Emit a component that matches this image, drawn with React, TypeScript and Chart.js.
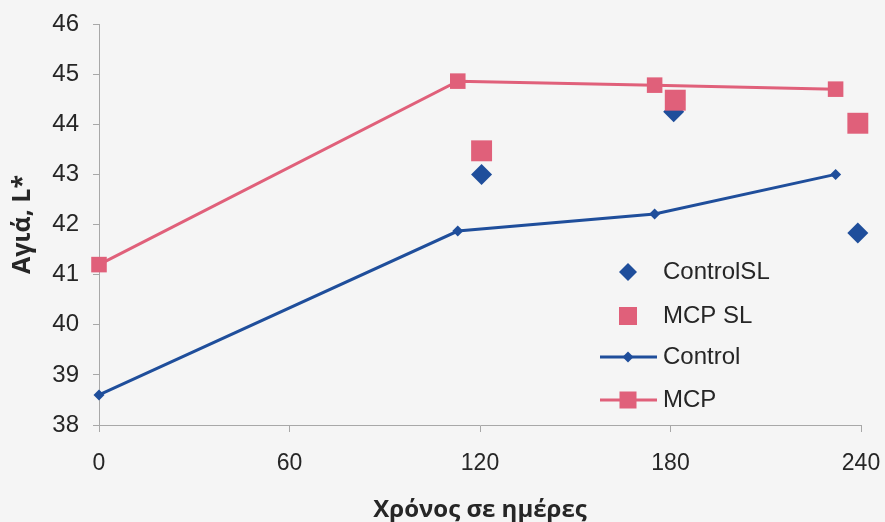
import { useEffect, useRef } from "react";
import { Chart, registerables } from "chart.js";

Chart.register(...registerables);

// Lightness L* over storage time (days)
const controlDays = [0, 113, 175, 232];
const controlL = [38.6, 41.87, 42.21, 43.0];
const mcpDays = [0, 113, 175, 232];
const mcpL = [41.2, 44.86, 44.78, 44.7];
const controlSLDays = [120.5, 181, 239];
const controlSLL = [43.0, 44.25, 41.83];
const mcpSLDays = [120.5, 181.5, 239];
const mcpSLL = [43.47, 44.48, 44.02];

const xTicks = [0, 60, 120, 180, 240];
const yTicks = [38, 39, 40, 41, 42, 43, 44, 45, 46];

const seriesNames = ["ControlSL", "MCP SL", "Control", "MCP"];
const xTitle = "Χρόνος σε ημέρες";
const yTitle = "Αγιά, L*";

const BLUE = "#1f4e9b";
const PINK = "#e0607a";
const BG = "#f5f5f5";
const AXIS = "#a8a8a8";
const TEXT = "#262626";

const pts = (xs: number[], ys: number[]) => xs.map((x, i) => ({ x, y: ys[i] }));

const backgroundPlugin = {
  id: "pageBackground",
  beforeDraw(chart: any) {
    const { ctx, width, height } = chart;
    ctx.save();
    ctx.fillStyle = BG;
    ctx.fillRect(0, 0, width, height);
    ctx.restore();
  },
};

// Legend drawn inside the plot, to the right of centre
const sideLegendPlugin = {
  id: "sideLegend",
  afterDraw(chart: any) {
    const ctx: CanvasRenderingContext2D = chart.ctx;
    const symX = 628;
    const textX = 663;
    const rows = [272, 316, 357, 400];
    ctx.save();
    ctx.font = "24px 'Liberation Sans', Arial, sans-serif";
    ctx.textBaseline = "middle";
    ctx.textAlign = "left";
    rows.forEach((y, i) => {
      const kind = i;
      if (kind === 2 || kind === 3) {
        ctx.strokeStyle = kind === 2 ? BLUE : PINK;
        ctx.lineWidth = 3;
        ctx.beginPath();
        ctx.moveTo(600, y);
        ctx.lineTo(657, y);
        ctx.stroke();
      }
      if (kind === 0 || kind === 2) {
        const r = kind === 0 ? 9 : 5.5;
        ctx.fillStyle = BLUE;
        ctx.beginPath();
        ctx.moveTo(symX, y - r);
        ctx.lineTo(symX + r, y);
        ctx.lineTo(symX, y + r);
        ctx.lineTo(symX - r, y);
        ctx.closePath();
        ctx.fill();
      } else {
        const s = kind === 1 ? 18 : 17;
        ctx.fillStyle = PINK;
        ctx.fillRect(symX - s / 2, y - s / 2, s, s);
      }
      ctx.fillStyle = TEXT;
      ctx.fillText(seriesNames[i], textX, y);
    });
    ctx.restore();
  },
};

export default function App() {
  const canvasRef = useRef<HTMLCanvasElement | null>(null);

  useEffect(() => {
    document.body.style.margin = "0";
    const canvas = canvasRef.current;
    if (!canvas) return;

    const chart = new Chart(canvas, {
      type: "line",
      data: {
        datasets: [
          {
            label: seriesNames[0],
            data: pts(controlSLDays, controlSLL),
            showLine: false,
            pointStyle: "rectRot",
            pointRadius: 10.5,
            pointBorderWidth: 0,
            backgroundColor: BLUE,
            borderColor: BLUE,
            clip: false,
            order: 1,
          },
          {
            label: seriesNames[1],
            data: pts(mcpSLDays, mcpSLL),
            showLine: false,
            pointStyle: "rect",
            pointRadius: 14.8,
            pointBorderWidth: 0,
            backgroundColor: PINK,
            borderColor: PINK,
            clip: false,
            order: 0,
          },
          {
            label: seriesNames[2],
            data: pts(controlDays, controlL),
            borderColor: BLUE,
            backgroundColor: BLUE,
            borderWidth: 3,
            pointStyle: "rectRot",
            pointRadius: 5.5,
            pointBorderWidth: 0,
            tension: 0,
            clip: false,
            order: 2,
          },
          {
            label: seriesNames[3],
            data: pts(mcpDays, mcpL),
            borderColor: PINK,
            backgroundColor: PINK,
            borderWidth: 3,
            pointStyle: "rect",
            pointRadius: 11,
            pointBorderWidth: 0,
            tension: 0,
            clip: false,
            order: 3,
          },
        ],
      },
      options: {
        responsive: false,
        animation: false,
        layout: { autoPadding: false, padding: { top: 24, right: 24, left: 0, bottom: 0 } },
        plugins: {
          legend: { display: false },
          tooltip: { enabled: false },
        },
        scales: {
          x: {
            type: "linear",
            min: 0,
            max: 240,
            afterBuildTicks: (s: any) => {
              s.ticks = xTicks.map((v) => ({ value: v }));
            },
            afterFit: (s: any) => {
              s.height = 97;
              s.paddingLeft = 0;
              s.paddingRight = 0;
            },
            grid: { drawOnChartArea: false, drawTicks: true, tickLength: 7, color: AXIS },
            border: { display: true, color: AXIS, width: 1 },
            ticks: {
              padding: 18,
              color: TEXT,
              font: { family: "'Liberation Sans', Arial, sans-serif", size: 23 },
              maxRotation: 0,
            },
            title: {
              display: true,
              text: xTitle,
              color: TEXT,
              font: { family: "'Open Sans', sans-serif", size: 24, weight: "bold", lineHeight: 1 },
              padding: { top: 0, bottom: 0 },
            },
          },
          y: {
            type: "linear",
            min: 38,
            max: 46,
            afterBuildTicks: (s: any) => {
              s.ticks = yTicks.map((v) => ({ value: v }));
            },
            afterFit: (s: any) => {
              s.width = 99;
              s.paddingTop = 0;
              s.paddingBottom = 0;
            },
            grid: { drawOnChartArea: false, drawTicks: true, tickLength: 6, color: AXIS },
            border: { display: true, color: AXIS, width: 1 },
            ticks: {
              padding: 14,
              color: TEXT,
              font: { family: "'Liberation Sans', Arial, sans-serif", size: 24 },
            },
            title: {
              display: true,
              text: yTitle,
              color: TEXT,
              font: { family: "'Open Sans', sans-serif", size: 25, weight: "bold", lineHeight: 1.2 },
              padding: { top: 8, bottom: 0 },
            },
          },
        },
      },
      plugins: [backgroundPlugin, sideLegendPlugin],
    });

    return () => chart.destroy();
  }, []);

  return (
    <div style={{ width: 885, height: 522 }}>
      <canvas ref={canvasRef} width={885} height={522} />
    </div>
  );
}
